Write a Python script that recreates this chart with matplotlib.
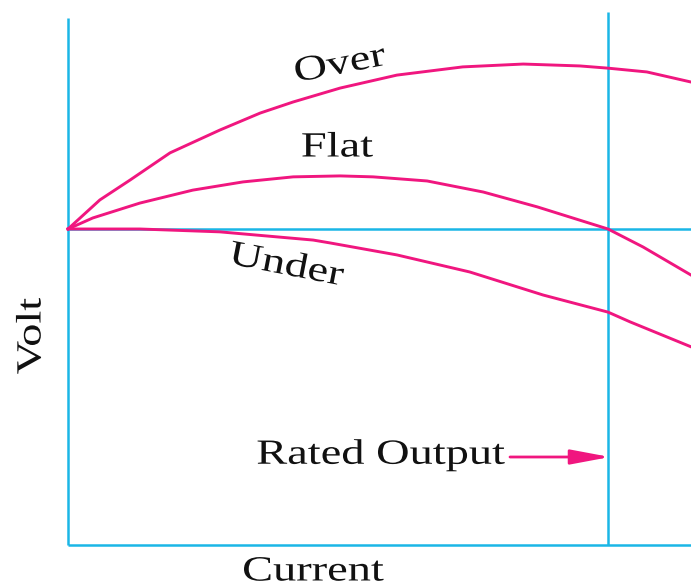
import matplotlib
matplotlib.use("Agg")
import matplotlib.pyplot as plt
from matplotlib.patheffects import AbstractPathEffect
from matplotlib.transforms import Affine2D

# Data (current as % of rated, voltage as % of no-load)
over_x = [0, 5.9, 11.5, 18.9, 28.1, 35.6, 41.7, 50.4, 60.9, 73.1, 84.3, 94.8, 100, 107.2, 115.4]
over_y = [100, 109.2, 115.5, 124.1, 131.3, 136.7, 140.2, 144.6, 148.7, 151.3, 152.2, 151.6, 150.9, 149.7, 146.5]
flat_x = [0, 4.6, 13.3, 23.1, 32.4, 41.7, 50.4, 56.5, 66.5, 76.9, 86.9, 100, 106.5, 115.4]
flat_y = [100, 103.5, 108.2, 112.3, 114.9, 116.5, 116.8, 116.5, 115.2, 111.7, 107.0, 100, 94.3, 85.4]
under_x = [0, 13.3, 28.1, 45.4, 48.5, 60.9, 74.4, 88.0, 100, 104.1, 115.4]
under_y = [100, 100, 99.1, 96.5, 95.6, 91.8, 86.4, 79.1, 73.7, 70.6, 62.7]
rated_current = 100
no_load_voltage = 100

CYAN = "#1AB6E6"
PINK = "#F0167F"
SERIF = ["Liberation Serif", "DejaVu Serif"]
W, H = 691, 588


class Stretch(AbstractPathEffect):
    """Draw text stretched along its baseline about its anchor point."""
    def __init__(self, sx, cx, cy, rot):
        super().__init__()
        self.sx, self.cx, self.cy, self.rot = sx, cx, cy, rot

    def draw_path(self, renderer, gc, tpath, affine, rgbFace=None):
        extra = (Affine2D().translate(-self.cx, -self.cy).rotate_deg(-self.rot)
                 .scale(self.sx, 1).rotate_deg(self.rot).translate(self.cx, self.cy))
        renderer.draw_path(gc, tpath, (affine + extra).frozen(), rgbFace)


fig = plt.figure(figsize=(W / 100, H / 100), dpi=100)
ax = fig.add_axes([0, 0, 1, 1])
ax.set_xlim(-68 / 5.4, 623 / 5.4)
ax.set_ylim(-43 / 3.16, 545 / 3.16)
ax.axis("off")

# axes and reference lines
kw = dict(color=CYAN, lw=1.8, solid_capstyle="butt")
ax.plot([0, 0], [0, 166.8], **kw)
ax.plot([0, 120], [0, 0], **kw)
ax.plot([rated_current, rated_current], [0, 168.7], **kw)
ax.plot([0, 120], [no_load_voltage, no_load_voltage], **kw)

# curves
for xs, ys in [(over_x, over_y), (flat_x, flat_y), (under_x, under_y)]:
    ax.plot(xs, ys, color=PINK, lw=2.1, solid_joinstyle="round")

FS = 25.5
SX = 1.31


def label(px, py, s, rot=0, ha="center"):
    x = (px - 68) / 5.4
    y = (545 - py) / 3.16
    ax.text(x, y, s, family=SERIF, fontsize=FS, rotation=rot, ha=ha, va="center",
            rotation_mode="anchor", color="#111111",
            path_effects=[Stretch(SX, px, H - py, rot)])


label(340, 65, "Over", rot=11)
label(337, 148, "Flat")
label(286, 266, "Under", rot=-11)
label(32, 336, "Volt", rot=90)
label(313, 572, "Current")
label(505, 455, "Rated Output", ha="right")

ax.annotate("", xy=((610 - 68) / 5.4, (545 - 457) / 3.16),
            xytext=((510 - 68) / 5.4, (545 - 457) / 3.16),
            arrowprops=dict(arrowstyle="-|>,head_length=2.4,head_width=0.45",
                            color=PINK, lw=2.0, shrinkA=0, shrinkB=0))

fig.savefig("out.png", dpi=100, facecolor="white")
